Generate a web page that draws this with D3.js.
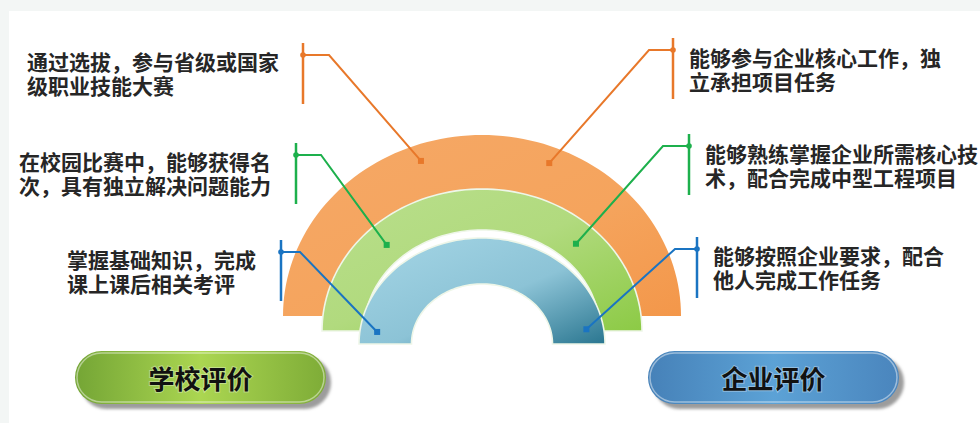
<!DOCTYPE html>
<html>
<head>
<meta charset="utf-8">
<script src="https://cdn.jsdelivr.net/npm/d3@7"></script>
<style>
  html, body { margin:0; padding:0; background:#f3f6f5; }
  svg { display:block; }
</style>
</head>
<body>
<svg id="chart" width="980" height="423"></svg>
<script>
// texts of the three levels, outer ring first
let leftLabels = [
  ["通过选拔，参与省级或国家", "级职业技能大赛"],
  ["在校园比赛中，能够获得名", "次，具有独立解决问题能力"],
  ["掌握基础知识，完成", "课上课后相关考评"]
];
let rightLabels = [
  ["能够参与企业核心工作，独", "立承担项目任务"],
  ["能够熟练掌握企业所需核心技", "术，配合完成中型工程项目"],
  ["能够按照企业要求，配合", "他人完成工作任务"]
];
let buttonLabels = ["学校评价", "企业评价"];
let levels = [0, 1, 2];   // 0 = outer (orange), 2 = inner (blue)

// ---- layout -------------------------------------------------------
let svg = d3.select("#chart");
let cx = 482;
// each ring is a half ellipse band sitting on its own base line
let ringGeo = [
  {base:316, rx:199, ry:181, irx:150, iry:125, mid:0.91},
  {base:331, rx:160, ry:142, irx:118, iry:101, mid:0.85},
  {base:344, rx:123, ry:106, irx:70.5, iry:60, mid:0.86}
];
let ringFill = ["url(#gOrange)", "url(#gGreen)", "url(#gBlue)"];
let lineColor = ["#e8782a", "#1db04c", "#1a74c2"];
// angle (deg) where the leader touches the ring
let leftAngle = [109.7, 134.5, 172.4];
let rightAngle = [68.2, 46.3, 9.3];
// leader bar x, dot y, elbow x
let leftBar = [{x:303, y:55, ex:329}, {x:296, y:155, ex:321}, {x:281, y:252, ex:300}];
let rightBar = [{x:673, y:50, ex:649}, {x:689, y:146, ex:663}, {x:697, y:249, ex:675}];
let leftTextX = [27, 19, 67];
let leftTextY = [70, 170, 268];
let rightTextX = [689, 705, 713];
let rightTextY = [66, 162, 264];

let defs = svg.append("defs");
function linGrad(id, x1, y1, x2, y2, stops) {
  let g = defs.append("linearGradient").attr("id", id)
    .attr("x1", x1).attr("y1", y1).attr("x2", x2).attr("y2", y2);
  stops.forEach(s => g.append("stop").attr("offset", s[0]).attr("stop-color", s[1]));
}
linGrad("gOrange", 0, 0, 1, 1, [[0, "#f5a866"], [0.6, "#f5a45d"], [1, "#f3974a"]]);
linGrad("gGreen", 0, 0, 1, 1, [[0, "#b9df8c"], [0.5, "#b1da7e"], [1, "#8cca45"]]);
linGrad("gBlue", 0.2, 0.2, 1, 1, [[0, "#9ccfe0"], [0.45, "#8cc3d6"], [1, "#2a7690"]]);
linGrad("gBtnGreen", 0, 0, 1, 0, [[0, "#74a535"], [0.5, "#abd651"], [1, "#7eac37"]]);
linGrad("gBtnBlue", 0, 0, 1, 0, [[0, "#4681b8"], [0.5, "#5ca2d6"], [1, "#4a85bd"]]);
defs.append("filter").attr("id", "blur").append("feGaussianBlur").attr("stdDeviation", 1.5);

// white paper
svg.append("rect").attr("x", 9).attr("y", 11).attr("width", 971).attr("height", 412).attr("fill", "#ffffff");

// ---- rings --------------------------------------------------------
// half ellipse band built with d3.path
function bandPath(g) {
  let p = d3.path();
  let n = 90;
  let ang = d3.scaleLinear().domain([0, n]).range([Math.PI, 0]);
  d3.range(n + 1).forEach(i => {
    let a = ang(i);
    let x = cx + g.rx * Math.cos(a), y = g.base - g.ry * Math.sin(a);
    if (i === 0) p.moveTo(x, y); else p.lineTo(x, y);
  });
  d3.range(n + 1).forEach(i => {
    let a = ang(n - i);
    p.lineTo(cx + g.irx * Math.cos(a), g.base - g.iry * Math.sin(a));
  });
  p.closePath();
  return p.toString();
}

svg.append("g").selectAll("path.ring")
  .data(levels)
  .enter()
  .append("path")
  .attr("class", "ring")
  .attr("d", i => bandPath(ringGeo[i]))
  .attr("fill", i => ringFill[i])
  .attr("stroke", i => i === 0 ? "none" : "#eef6e8")
  .attr("stroke-width", 1.6);

function anchor(i, deg) {
  let g = ringGeo[i], a = deg * Math.PI / 180;
  return [cx + g.mid * g.rx * Math.cos(a), g.base - g.mid * g.ry * Math.sin(a)];
}

// ---- leaders ------------------------------------------------------
function drawLeader(i, bar, deg) {
  let g = svg.append("g").attr("stroke", lineColor[i]).attr("fill", lineColor[i]);
  let t = anchor(i, deg);
  g.append("line").attr("x1", bar.x).attr("x2", bar.x)
    .attr("y1", bar.y - 12).attr("y2", bar.y + 49).attr("stroke-width", 2.5);
  g.append("polyline")
    .attr("points", [[bar.x, bar.y], [bar.ex, bar.y], t].map(p => p.join(",")).join(" "))
    .attr("fill", "none").attr("stroke-width", 2);
  g.append("circle").attr("cx", bar.x).attr("cy", bar.y).attr("r", 2.8).attr("stroke", "none");
  g.append("rect").attr("x", t[0] - 3).attr("y", t[1] - 3).attr("width", 6).attr("height", 6).attr("stroke", "none");
}
levels.forEach(i => {
  drawLeader(i, leftBar[i], leftAngle[i]);
  drawLeader(i, rightBar[i], rightAngle[i]);
});

// ---- texts --------------------------------------------------------
function drawLabel(lines, x, y) {
  let t = svg.append("text")
    .attr("font-family", "'Noto Sans CJK SC', sans-serif")
    .attr("font-size", 21)
    .attr("font-weight", "bold")
    .attr("fill", "#262626");
  lines.forEach((s, k) => t.append("tspan").attr("x", x).attr("y", y + k * 24).text(s));
}
levels.forEach(i => {
  drawLabel(leftLabels[i], leftTextX[i], leftTextY[i]);
  drawLabel(rightLabels[i], rightTextX[i], rightTextY[i]);
});

// ---- buttons ------------------------------------------------------
let bX = [75, 648], bY = 351, bW = 251, bH = 53;
let bFill = ["url(#gBtnGreen)", "url(#gBtnBlue)"];
let buttons = svg.append("g").selectAll("g.button")
  .data(buttonLabels)
  .enter()
  .append("g")
  .attr("class", "button");

buttons.append("rect")
  .attr("x", (d, i) => bX[i] + 5).attr("y", bY + 5)
  .attr("width", bW).attr("height", bH).attr("rx", bH / 2)
  .attr("fill", "#9c9c9c").attr("filter", "url(#blur)");
buttons.append("rect")
  .attr("x", (d, i) => bX[i]).attr("y", bY)
  .attr("width", bW).attr("height", bH).attr("rx", bH / 2)
  .attr("fill", (d, i) => bFill[i]);
buttons.append("rect")
  .attr("x", (d, i) => bX[i] + 2).attr("y", bY + 2)
  .attr("width", bW - 4).attr("height", bH - 4).attr("rx", bH / 2 - 2)
  .attr("fill", "none").attr("stroke", "#ffffff").attr("stroke-opacity", 0.45).attr("stroke-width", 1.5);
buttons.append("text")
  .attr("x", (d, i) => bX[i] + bW / 2)
  .attr("y", bY + bH / 2)
  .attr("text-anchor", "middle")
  .attr("dominant-baseline", "central")
  .attr("font-family", "'Noto Sans CJK SC', sans-serif")
  .attr("font-size", 26)
  .attr("font-weight", "bold")
  .attr("fill", "#111")
  .attr("stroke", "#ffffff").attr("stroke-opacity", 0.35).attr("stroke-width", 2)
  .attr("paint-order", "stroke")
  .text(d => d);
</script>
</body>
</html>
